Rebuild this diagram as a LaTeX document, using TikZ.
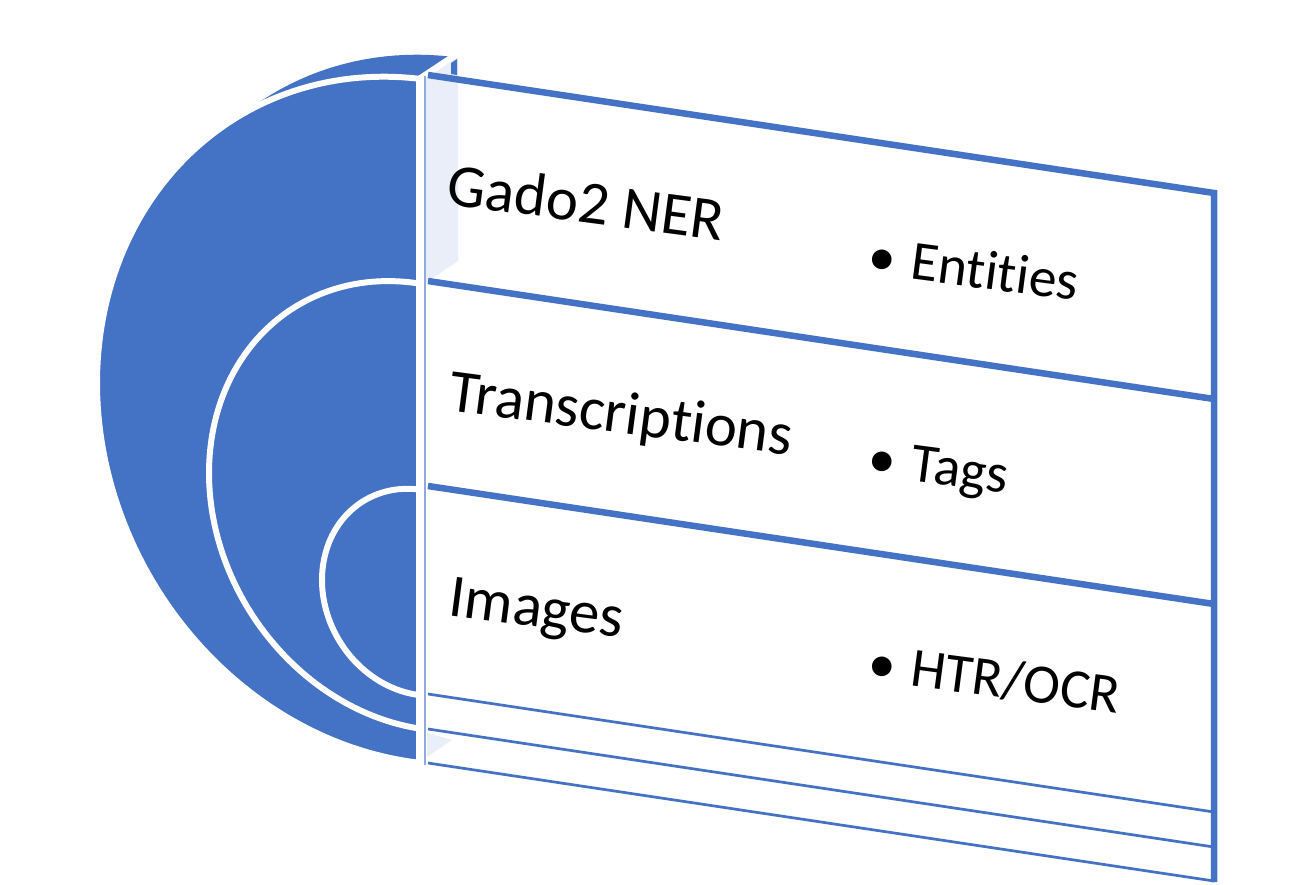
\documentclass[tikz,border=0pt]{standalone}
\usepackage{fontspec}
\setmainfont{Carlito}[Ligatures={NoCommon,NoContextual}]
\definecolor{blu}{HTML}{4472C4}
\definecolor{lightblu}{HTML}{8FAADC}
\definecolor{sidefill}{HTML}{E9EEF8}
\tikzset{
  facestyle/.style={fill=blu, draw=white, line width=1.7pt},
  thickband/.style={draw=blu, line width=1.85pt},
  thinband/.style={draw=blu, line width=0.77pt},
  leftlbl/.style={inner sep=0pt, anchor=base west, rotate=-7.5, font=\fontsize{17.3}{20}\selectfont},
  rightlbl/.style={inner sep=0pt, anchor=base west, rotate=-7.5, font=\fontsize{15.8}{19}\selectfont},
}
\newcommand{\bul}[1]{\makebox[12.3pt][l]{•}#1}
\begin{document}
\begin{tikzpicture}[x=0.01cm,y=-0.01cm]
\path[use as bounding box] (0,0) rectangle (1300,884);
\fill[white] (0,0) rectangle (1300,884);

% back (top) face of the outer half disk
\begin{scope}
  \clip (0,0) -- (452,0) -- (452,56.5) -- (419,78.5) -- (419,300) -- (0,300) -- cycle;
  \fill[blu] plot[domain=0:180,samples=90,variable=\t]
    ({452-322*sin(\t)},{398.75-342*cos(\t)-37.75*sin(\t)}) -- cycle;
\end{scope}

% side strip of the panel
\fill[sidefill] (425,79) -- (458,57) -- (458,261) -- (425,283) -- cycle;
\fill[sidefill] (427,733) -- (452,740) -- (427,757) -- cycle;
\fill[blu] (451,63) -- (457,59) -- (457,75) -- (451,74) -- cycle;

% front faces of the nested half disks
\path[facestyle] plot[domain=0:180,samples=120,variable=\t]
  ({419-322*sin(\t)},{420.75-342*cos(\t)-37.75*sin(\t)}) -- cycle;
\path[facestyle] plot[domain=0:180,samples=100,variable=\t]
  ({419-210*sin(\t)},{506-222.5*cos(\t)-33*sin(\t)}) -- cycle;
\path[facestyle] plot[domain=0:180,samples=80,variable=\t]
  ({419-97*sin(\t)},{592.25-102.75*cos(\t)-12.25*sin(\t)}) -- cycle;
\draw[white, line width=1.5pt] (419,78.5) -- (453,56);

% panel
\coordinate (L1) at (428,75);  \coordinate (R1) at (1214,193);
\coordinate (L2) at (428,281); \coordinate (R2) at (1214,399);
\coordinate (L3) at (428,486); \coordinate (R3) at (1214,604);
\coordinate (L4) at (428,694); \coordinate (R4) at (1214,812);
\coordinate (L5) at (428,729); \coordinate (R5) at (1214,847);
\coordinate (L6) at (428,763); \coordinate (R6) at (1214,881);
\coordinate (RB) at (1214,882);
\coordinate (PT) at (425,76); \coordinate (PB) at (425,765);
\draw[lightblu, line width=0.7pt] (PT) -- (PB);
\draw[thickband, line join=miter] (L1) -- (R1) -- (RB);
\draw[thickband] (L2) -- (R2);
\draw[thickband] (L3) -- (R3);
\draw[thinband] (L4) -- (R4);
\draw[thinband] (L5) -- (R5);
\draw[thinband] (L6) -- (R6);

% labels
\node[leftlbl] (gado) at (445,204) {Gado2 NER};
\node[leftlbl] (trans) at (447,410) {Transcriptions};
\node[leftlbl] (img) at (447,615) {Images};
\node[rightlbl] (ent) at (866,273) {\bul{Entities}};
\node[rightlbl] (tags) at (866,475) {\bul{Tags}};
\node[rightlbl] (htr) at (866,680) {\bul{HTR/OCR}};
\end{tikzpicture}
\end{document}
